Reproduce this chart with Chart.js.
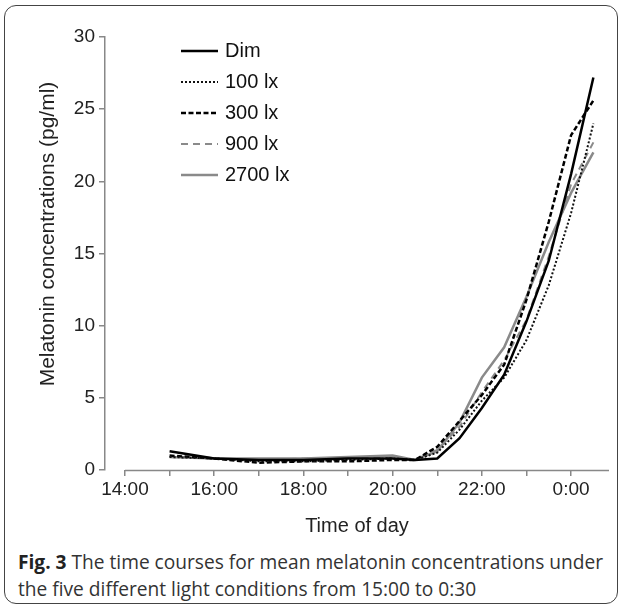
<!DOCTYPE html>
<html>
<head>
<meta charset="utf-8">
<script src="https://cdn.jsdelivr.net/npm/chart.js@4"></script>
<style>
  body { margin: 0; background: #fff; }
  #frame {
    position: absolute; left: 4px; top: 5px; width: 614px; height: 599px;
    border: 1.5px solid #444; border-radius: 12px; box-sizing: border-box;
  }
  #wrap { position: absolute; left: 0; top: 0; width: 624px; height: 540px; }
  #caption {
    position: absolute; left: 18px; top: 549px;
    font-family: "Open Sans", sans-serif; font-size: 18px; line-height: 27px;
    color: #333; white-space: nowrap;
  }
  #caption b { color: #222; }
</style>
</head>
<body>
<div id="frame"></div>
<div id="wrap"><canvas id="myChart" width="624" height="540"></canvas></div>
<div id="caption">
  <div id="line1"><b>Fig. 3</b> The time courses for mean melatonin concentrations under</div>
  <div>the five different light conditions from 15:00 to 0:30</div>
</div>
<script>
// hours of day, 0:00 written as 24
const times = [15, 16, 17, 18, 19, 20, 20.5, 21, 21.5, 22, 22.5, 23, 23.5, 24, 24.5];

const dim    = [1.3, 0.8, 0.7, 0.7, 0.8, 0.8, 0.7, 0.8, 2.2, 4.3, 6.6, 10.3, 14.5, 20.5, 27.2];
const lx100  = [0.9, 0.8, 0.6, 0.6, 0.7, 0.8, 0.7, 1.2, 2.8, 4.8, 6.4, 9.0, 12.8, 17.8, 24.0];
const lx300  = [1.0, 0.8, 0.5, 0.6, 0.6, 0.7, 0.7, 1.6, 3.4, 5.2, 7.3, 11.8, 17.2, 23.2, 25.6];
const lx900  = [0.9, 0.8, 0.7, 0.8, 0.8, 0.9, 0.7, 1.4, 3.0, 5.4, 7.6, 10.4, 14.8, 19.8, 22.7];
const lx2700 = [0.9, 0.8, 0.8, 0.8, 0.9, 1.0, 0.7, 1.3, 3.3, 6.4, 8.5, 12.0, 15.8, 19.2, 22.0];

const labels = ["Dim", "100 lx", "300 lx", "900 lx", "2700 lx"];
const yTitle = "Melatonin concentrations (pg/ml)";

const toPoints = (vals) => vals.map((v, i) => ({ x: times[i], y: v }));

const font = '"Liberation Sans", Arial, sans-serif';

// legend drawn inside the plot, top left
const legendInside = {
  id: "legendInside",
  afterDatasetsDraw(chart) {
    const ctx = chart.ctx;
    chart.data.datasets.forEach((ds, i) => {
      const y = 51 + i * 31;
      ctx.save();
      ctx.strokeStyle = ds.borderColor;
      ctx.lineWidth = ds.borderWidth;
      ctx.setLineDash(ds.borderDash || []);
      ctx.beginPath();
      ctx.moveTo(181, y);
      ctx.lineTo(218, y);
      ctx.stroke();
      ctx.setLineDash([]);
      ctx.fillStyle = "#111";
      ctx.font = "20px " + font;
      ctx.textBaseline = "middle";
      ctx.fillText(ds.label, 225, y);
      ctx.restore();
    });
  },
};

// x axis line starts at 14:00, not at the y axis; y title sits a bit above centre
const axisExtras = {
  id: "axisExtras",
  afterDraw(chart) {
    const ctx = chart.ctx;
    const x = chart.scales.x;
    const y = chart.chartArea.bottom + 0.5;
    ctx.save();
    ctx.strokeStyle = "#888";
    ctx.lineWidth = 1.5;
    ctx.beginPath();
    ctx.moveTo(x.getPixelForValue(14), y);
    ctx.lineTo(chart.chartArea.right, y);
    ctx.stroke();

    ctx.translate(48, 234);
    ctx.rotate(-Math.PI / 2);
    ctx.fillStyle = "#222";
    ctx.font = "21px " + font;
    ctx.textAlign = "center";
    ctx.textBaseline = "middle";
    ctx.fillText(yTitle, 0, 0);
    ctx.restore();
  },
};

const ctx = document.getElementById("myChart");

const dataChart = {
  datasets: [
    { label: labels[0], data: toPoints(dim), borderColor: "#000", borderWidth: 2.5 },
    { label: labels[1], data: toPoints(lx100), borderColor: "#111", borderWidth: 2, borderDash: [2, 2] },
    { label: labels[2], data: toPoints(lx300), borderColor: "#000", borderWidth: 2.5, borderDash: [5, 2.5] },
    { label: labels[3], data: toPoints(lx900), borderColor: "#8a8a8a", borderWidth: 2, borderDash: [7, 5] },
    { label: labels[4], data: toPoints(lx2700), borderColor: "#8a8a8a", borderWidth: 2.5 },
  ],
};

const config = {
  type: "line",
  data: dataChart,
  options: {
    responsive: false,
    animation: false,
    layout: { padding: { top: 37, right: 15, left: 0, bottom: 0 } },
    elements: { point: { radius: 0 }, line: { tension: 0, fill: false } },
    plugins: { legend: { display: false }, tooltip: { enabled: false } },
    scales: {
      x: {
        type: "linear",
        min: 13.552,
        max: 24.85,
        afterFit: (s) => { s.height = 70; },
        border: { display: false },
        grid: { drawOnChartArea: false, drawTicks: true, tickLength: 6, color: "#888", lineWidth: 1.5 },
        ticks: {
          stepSize: 1,
          includeBounds: false,
          autoSkip: false,
          maxRotation: 0,
          padding: 2,
          color: "#222",
          font: { family: font, size: 19 },
          callback: (v) => (v % 2 === 0 ? (v % 24) + ":00" : ""),
        },
        title: {
          display: true,
          text: "Time of day",
          color: "#222",
          font: { family: font, size: 20 },
          padding: { top: 0, bottom: 2 },
        },
      },
      y: {
        min: 0,
        max: 30,
        afterFit: (s) => { s.width = 105; },
        border: { display: true, color: "#888", width: 1.5 },
        grid: { drawOnChartArea: false, drawTicks: true, tickLength: 6, color: "#888", lineWidth: 1.5 },
        ticks: {
          stepSize: 5,
          padding: 4,
          color: "#222",
          font: { family: font, size: 19 },
        },
      },
    },
  },
  plugins: [legendInside, axisExtras],
};

const chart = new Chart(ctx, config);

// fit the caption's first line to the figure width
const line1 = document.getElementById("line1");
const cap = document.getElementById("caption");
const w = line1.scrollWidth;
cap.style.fontSize = (18 * 585 / w).toFixed(2) + "px";
</script>
</body>
</html>
